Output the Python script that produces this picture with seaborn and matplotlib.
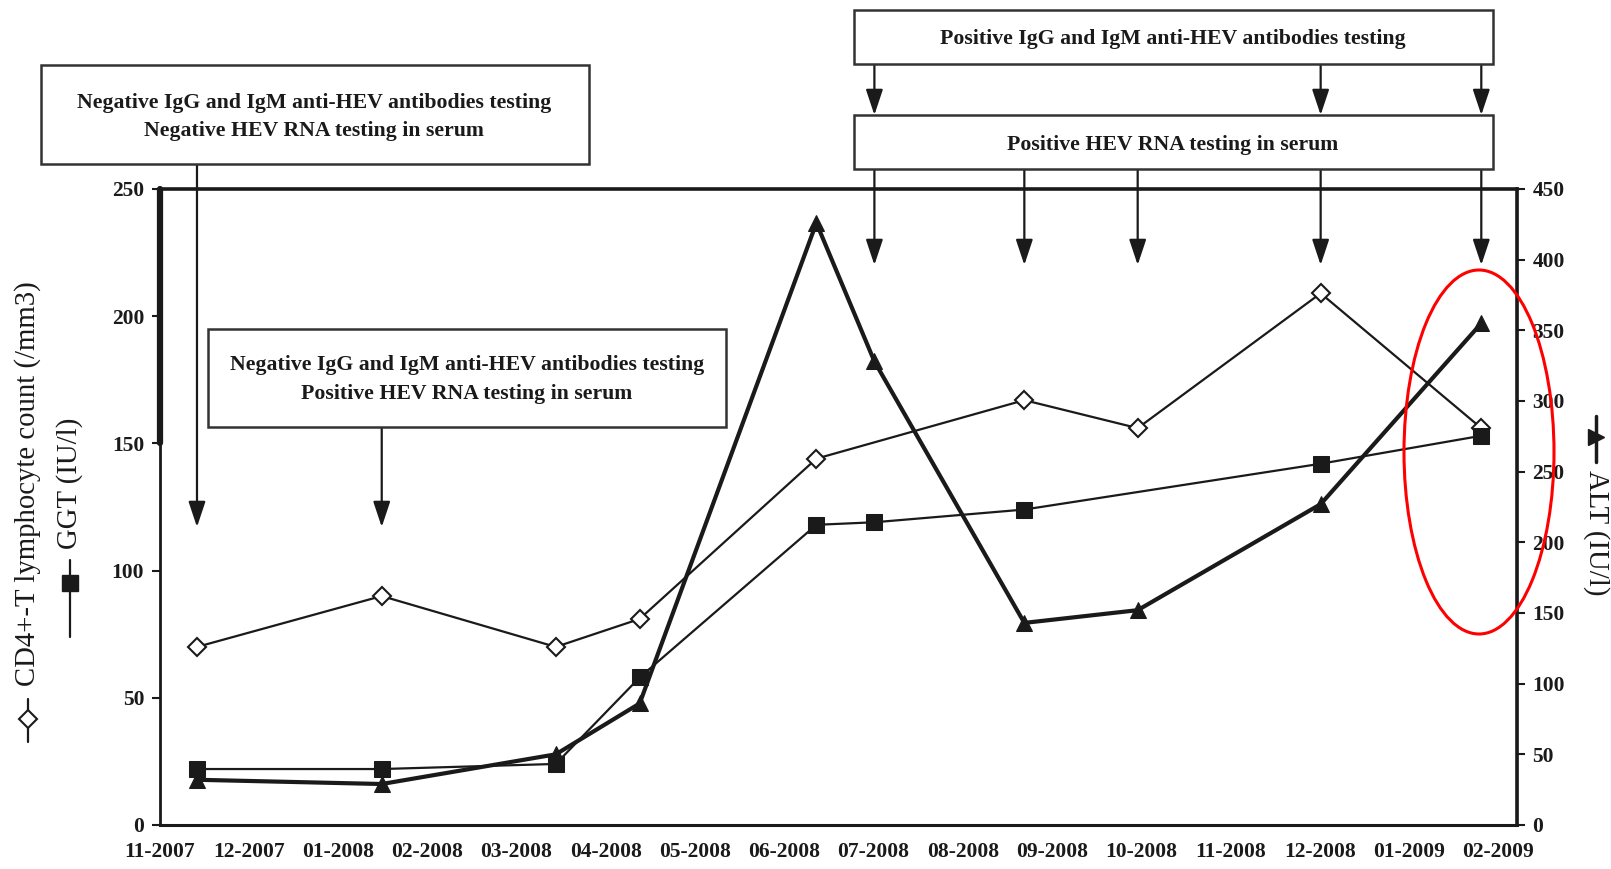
import matplotlib
matplotlib.use('Agg')
import matplotlib.pyplot as plt
import seaborn as sns
from matplotlib.patches import Rectangle, Ellipse
from matplotlib.lines import Line2D

sns.set_style('white')
plt.rcParams['font.family'] = ['Liberation Serif', 'DejaVu Serif']
plt.rcParams['font.weight'] = 'bold'

# x positions are months after 11-2007 (tick 0)
month_labels = ['11-2007', '12-2007', '01-2008', '02-2008', '03-2008', '04-2008',
                '05-2008', '06-2008', '07-2008', '08-2008', '09-2008', '10-2008',
                '11-2008', '12-2008', '01-2009', '02-2009']

cd4_x = [0.42, 2.49, 4.44, 5.38, 7.36, 9.69, 10.96, 13.01, 14.81]
cd4 = [70, 90, 70, 81, 144, 167, 156, 209, 156]

ggt_x = [0.42, 2.49, 4.44, 5.38, 7.36, 8.01, 9.69, 13.01, 14.81]
ggt = [22, 22, 24, 58, 118, 119, 124, 142, 153]

alt_x = [0.42, 2.49, 4.44, 5.38, 7.36, 8.01, 9.69, 10.96, 13.01, 14.81]
alt = [32, 29, 50, 86, 426, 328, 143, 152, 227, 355]

# testing events (months)
neg_neg_x = [0.42]
neg_pos_x = [2.49]
pos_ab_x = [8.01, 13.01, 14.81]
pos_rna_x = [8.01, 9.69, 10.96, 13.01, 14.81]

W, H = 1611, 869
def fx(px):
    return px / W
def fy(py):
    return 1 - py / H

ink = '#1a1a1a'
fig = plt.figure(figsize=(W / 100, H / 100), dpi=100)
ax = fig.add_axes([fx(159.5), fy(825), (1517 - 159.5) / W, (825 - 189) / H])
ax2 = ax.twinx()

sns.lineplot(x=cd4_x, y=cd4, ax=ax, color=ink, lw=1.6, marker='D', markersize=9,
             markerfacecolor='white', markeredgecolor=ink, markeredgewidth=1.5)
sns.lineplot(x=ggt_x, y=ggt, ax=ax, color=ink, lw=1.6, marker='s', markersize=11,
             markerfacecolor=ink, markeredgecolor=ink)
sns.lineplot(x=alt_x, y=alt, ax=ax2, color=ink, lw=3, marker='^', markersize=12,
             markerfacecolor=ink, markeredgecolor=ink)

ax.set_xlim(0, 15.21)
ax.set_ylim(0, 250)
ax2.set_ylim(0, 450)
ax.set_xticks(range(len(month_labels)))
ax.set_xticklabels(month_labels)
ax.set_yticks(range(0, 251, 50))
ax2.set_yticks(range(0, 451, 50))
ax.set_ylabel('')
ax2.set_ylabel('')
ax.set_xlabel('')

ax.tick_params(axis='both', direction='out', length=6, width=1.5, labelsize=15.5,
               colors=ink, pad=6)
ax.tick_params(axis='y', pad=5)
ax2.tick_params(axis='y', direction='out', length=6, width=1.5, labelsize=15.5,
                colors=ink, pad=5)

for s in ['top', 'bottom', 'left']:
    ax.spines[s].set_color(ink)
ax.spines['top'].set_linewidth(2.6)
ax.spines['bottom'].set_linewidth(2.2)
ax.spines['left'].set_linewidth(2)
ax.spines['right'].set_linewidth(1)
for s in ['top', 'bottom', 'left']:
    ax2.spines[s].set_visible(False)
ax2.spines['right'].set_linewidth(2.6)
ax2.spines['right'].set_color(ink)
ax.axvline(0, ymin=0.6, ymax=1, color=ink, lw=4.5, clip_on=False)

# annotation boxes
def box(x0, y0, x1, y1):
    fig.add_artist(Rectangle((fx(x0), fy(y1)), (x1 - x0) / W, (y1 - y0) / H,
                             transform=fig.transFigure, facecolor='white',
                             edgecolor='#333333', lw=1.8, zorder=3))

fs_box = 15.7
box(41, 65, 589, 164)
fig.text(fx(314), fy(103), 'Negative IgG and IgM anti-HEV antibodies testing',
         ha='center', va='center', fontsize=fs_box, color=ink, zorder=4)
fig.text(fx(314), fy(131), 'Negative HEV RNA testing in serum',
         ha='center', va='center', fontsize=fs_box, color=ink, zorder=4)

box(208, 329, 726, 427)
fig.text(fx(467), fy(365), 'Negative IgG and IgM anti-HEV antibodies testing',
         ha='center', va='center', fontsize=fs_box, color=ink, zorder=4)
fig.text(fx(467), fy(394), 'Positive HEV RNA testing in serum',
         ha='center', va='center', fontsize=fs_box, color=ink, zorder=4)

box(854, 10, 1493, 64)
fig.text(fx(1173), fy(39), 'Positive IgG and IgM anti-HEV antibodies testing',
         ha='center', va='center', fontsize=fs_box, color=ink, zorder=4)

box(854, 115, 1493, 169)
fig.text(fx(1173), fy(145), 'Positive HEV RNA testing in serum',
         ha='center', va='center', fontsize=fs_box, color=ink, zorder=4)

def arrow(xd, y_from, y_to):
    ax.annotate('', xy=(xd, fy(y_to)), xycoords=('data', 'figure fraction'),
                xytext=(xd, fy(y_from)), textcoords=('data', 'figure fraction'),
                arrowprops=dict(arrowstyle='-|>,head_length=0.6,head_width=0.2',
                                color=ink, lw=1.6, mutation_scale=26,
                                shrinkA=0, shrinkB=0))

for xd in neg_neg_x:
    arrow(xd, 164, 527)
for xd in neg_pos_x:
    arrow(xd, 427, 527)
for xd in pos_ab_x:
    arrow(xd, 64, 115)
for xd in pos_rna_x:
    arrow(xd, 169, 265)

# red ellipse
fig.add_artist(Ellipse((fx(1479), fy(452)), 150 / W, 364 / H, transform=fig.transFigure,
                       fill=False, edgecolor='red', lw=2.2))

# axis labels with legend icons
fig.text(fx(28), fy(484), 'CD4+-T lymphocyte count (/mm3)', rotation=90,
         ha='center', va='center', fontsize=20.7, fontweight='normal', color=ink)
fig.add_artist(Line2D([fx(28)] * 3, [fy(699), fy(719), fy(742)], transform=fig.transFigure,
                      color=ink, lw=1.6, marker='D', markevery=[1], markersize=9,
                      markerfacecolor='white', markeredgecolor=ink, markeredgewidth=1.5))

fig.text(fx(70), fy(483), 'GGT (IU/l)', rotation=90,
         ha='center', va='center', fontsize=20.7, fontweight='normal', color=ink)
fig.add_artist(Line2D([fx(70)] * 3, [fy(560), fy(583), fy(637)], transform=fig.transFigure,
                      color=ink, lw=1.6, marker='s', markevery=[1], markersize=11,
                      markerfacecolor=ink, markeredgecolor=ink))

fig.text(fx(1596), fy(533), 'ALT (IU/l)', rotation=270,
         ha='center', va='center', fontsize=20.7, fontweight='normal', color=ink)
fig.add_artist(Line2D([fx(1596)] * 3, [fy(416), fy(437), fy(462)], transform=fig.transFigure,
                      color=ink, lw=2.5, marker='>', markevery=[1], markersize=11,
                      markerfacecolor=ink, markeredgecolor=ink))

fig.savefig('out.png', dpi=100)
